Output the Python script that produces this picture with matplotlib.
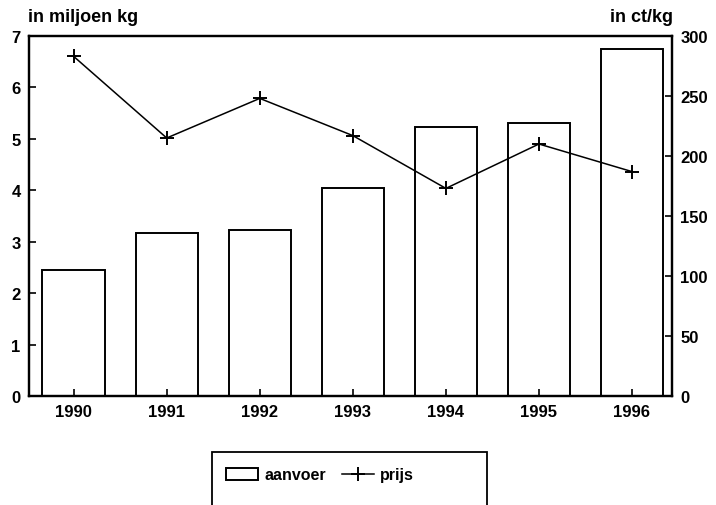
import matplotlib
matplotlib.use("Agg")
import matplotlib.pyplot as plt
from matplotlib.patches import Rectangle
from matplotlib.lines import Line2D

years = ["1990", "1991", "1992", "1993", "1994", "1995", "1996"]
aanvoer = [2.45, 3.16, 3.23, 4.04, 5.24, 5.31, 6.74]   # miljoen kg
prijs = [283, 215, 248, 217, 173, 210, 187]            # ct/kg
left_ticks = [0, 1, 2, 3, 4, 5, 6, 7]
right_ticks = [0, 50, 100, 150, 200, 250, 300]

plt.rcParams['font.family'] = ['Liberation Sans', 'DejaVu Sans']
plt.rcParams['font.weight'] = 'bold'
FS = 12

fig = plt.figure(figsize=(7.16, 5.06), dpi=100)
ax = fig.add_axes([29/716, 1-397/506, (672-29)/716, (397-37)/506])
x = list(range(len(years)))
ax.bar(x, aanvoer, width=0.67, color='white', edgecolor='black', linewidth=1.4)
ax.set_xlim(-0.48, 6.43)
ax.set_ylim(0, 7)
ax.set_yticks(left_ticks)
ax.set_xticks(x)
ax.set_xticklabels(years)
ax.tick_params(axis='both', direction='in', length=5, width=1.2, labelsize=FS, colors='black')
ax.tick_params(axis='y', pad=6)
ax.tick_params(axis='x', pad=6)
for lab in ax.get_xticklabels() + ax.get_yticklabels():
    lab.set_fontweight('bold')
for s in ax.spines.values():
    s.set_linewidth(1.6)

ax2 = ax.twinx()
ax2.plot(x, prijs, color='black', linewidth=1.1, marker='+', markersize=10, markeredgewidth=1.4)
ax2.set_ylim(0, 300)
ax2.set_yticks(right_ticks)
ax2.tick_params(axis='y', direction='in', length=5, width=1.2, labelsize=FS, pad=6)
for lab in ax2.get_yticklabels():
    lab.set_fontweight('bold')
for s in ax2.spines.values():
    s.set_linewidth(1.6)

fig.text(28/716, 1-18/506, "in miljoen kg", fontsize=13, fontweight='bold', ha='left', va='center')
fig.text(673/716, 1-18/506, "in ct/kg", fontsize=13, fontweight='bold', ha='right', va='center')

# legend
handles = [Rectangle((0, 0), 1, 1, facecolor='white', edgecolor='black', linewidth=1.4),
           Line2D([0], [0], color='black', linewidth=1.1, marker='+', markersize=10, markeredgewidth=1.4)]
leg = fig.legend(handles, ["aanvoer", "prijs"], ncol=2, frameon=False, loc='center',
                 bbox_to_anchor=(320/716, 1-476/506), prop={'size': 11.5, 'weight': 'bold'},
                 handlelength=2.0, handletextpad=0.4, columnspacing=1.0)
fig.patches.append(Rectangle((212/716, -0.05), (487-212)/716, (1-453/506) + 0.05,
                             transform=fig.transFigure, facecolor='none', edgecolor='black',
                             linewidth=1.3))

fig.savefig("out.png", dpi=100)
